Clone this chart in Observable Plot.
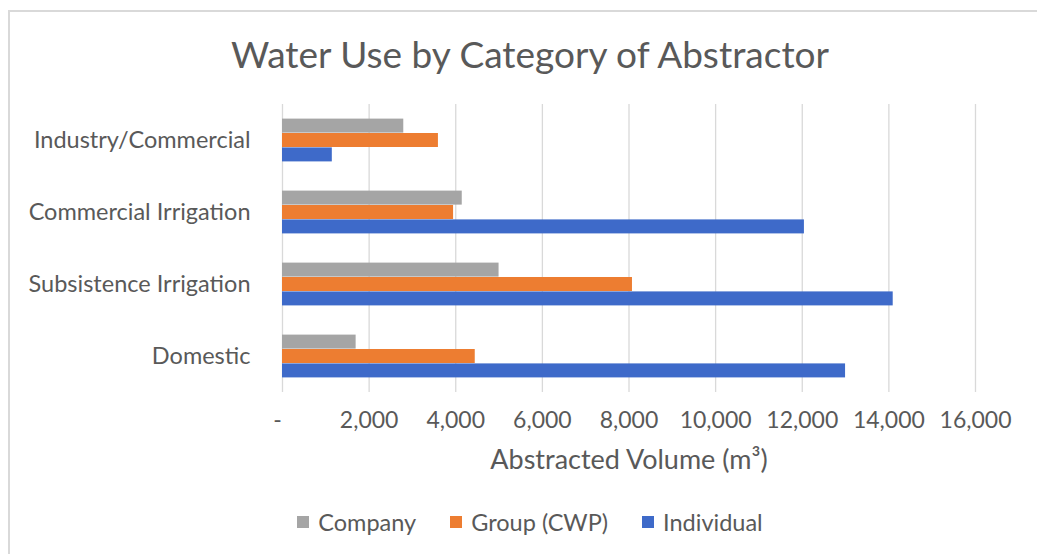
<!DOCTYPE html>
<html>
<head>
<meta charset="utf-8">
<script src="https://cdn.jsdelivr.net/npm/d3@7"></script>
<script src="https://cdn.jsdelivr.net/npm/@observablehq/plot@0.6"></script>
<style>
  html, body { margin: 0; padding: 0; background: #ffffff; }
  #chart {
    position: relative;
    width: 1037px;
    height: 554px;
    overflow: hidden;
    font-family: Lato, "Open Sans", sans-serif;
    color: #595959;
  }
  #frame {
    position: absolute;
    left: 8px;
    top: 10px;
    width: 1200px;
    height: 700px;
    border-top: 2px solid #d9d9d9;
    border-left: 2px solid #d9d9d9;
    box-sizing: border-box;
  }
  #title {
    position: absolute;
    left: 0;
    width: 1060px;
    top: 35px;
    text-align: center;
    font-size: 37px;
    line-height: 1;
    white-space: nowrap;
  }
  #plot {
    position: absolute;
    left: 0;
    top: 90px;
  }
  #legend {
    position: absolute;
    left: 0;
    width: 1060px;
    top: 508px;
    height: 28px;
    display: flex;
    justify-content: center;
    align-items: center;
    gap: 34px;
    font-size: 23.5px;
  }
  #legend .item { display: flex; align-items: center; gap: 9px; }
  #legend .swatch { width: 12px; height: 12px; }
</style>
</head>
<body>
<div id="chart">
  <div id="frame"></div>
  <div id="title">Water Use by Category of Abstractor</div>
  <div id="plot"></div>
  <div id="legend"></div>
</div>
<script>
// Abstractor categories, listed top to bottom
const categories = ["Industry/Commercial", "Commercial Irrigation", "Subsistence Irrigation", "Domestic"];

// Abstractor types (series), in the order they sit inside each group
const seriesNames = ["Company", "Group (CWP)", "Individual"];

// Abstracted volume in m³, one value per category
const company    = [2800, 4150, 5000, 1700];
const group      = [3600, 3950, 8080, 4450];
const individual = [1150, 12050, 14100, 13000];

// Value axis ticks
const xTicks = [0, 2000, 4000, 6000, 8000, 10000, 12000, 14000, 16000];

const seriesColors = ["#a5a5a5", "#ed7d31", "#3e6ac9"];
const axisTitle = "Abstracted Volume (m³)";

// Long-format rows built from the arrays above
const seriesValues = [company, group, individual];
const rows = seriesNames.flatMap((s, i) =>
  categories.map((c, j) => ({category: c, series: s, value: seriesValues[i][j]}))
);

const fmt = d3.format(",");
const tickFormat = d => d === 0 ? "-" : fmt(d);

// Frame geometry: each category gets one band step; the three bars of a
// group are stacked one bandwidth apart around the band's centre line.
const W = 1037, H = 390;
const mTop = 14, mBottom = 88, mLeft = 282, mRight = 62;
const padInner = 0.8, padOuter = 0.4;
const step = (H - mTop - mBottom) / (categories.length - padInner + 2 * padOuter);
const bandwidth = step * (1 - padInner);

const svg = Plot.plot({
  width: W,
  height: H,
  marginTop: mTop,
  marginBottom: mBottom,
  marginLeft: mLeft,
  marginRight: mRight,
  style: {fontFamily: "Lato, 'Open Sans', sans-serif", color: "#595959", background: "transparent", overflow: "visible"},
  x: {domain: [0, 16000], label: null},
  y: {domain: categories, paddingInner: padInner, paddingOuter: padOuter, label: null},
  marks: [
    Plot.gridX(xTicks, {stroke: "#d9d9d9", strokeOpacity: 1, strokeWidth: 1.3}),
    ...seriesNames.map((s, i) =>
      Plot.barX(rows.filter(r => r.series === s), {
        x: "value",
        y: "category",
        fill: seriesColors[i],
        dy: (i - 1) * bandwidth
      })
    ),
    // zero is written as a dash, set a little left as in accounting format
    Plot.axisX(xTicks.filter(d => d !== 0), {tickSize: 0, tickPadding: 19, fontSize: 23, tickFormat, fill: "#595959"}),
    Plot.axisX([0], {tickSize: 0, tickPadding: 19, fontSize: 23, tickFormat, fill: "#595959", dx: -5}),
    Plot.axisY({tickSize: 0, tickPadding: 32, fontSize: 23.5, fill: "#595959"}),
    Plot.text([axisTitle], {frameAnchor: "bottom", dy: 76, fontSize: 27, fill: "#595959"})
  ]
});
document.getElementById("plot").appendChild(svg);

// Legend below the chart
const legend = document.getElementById("legend");
seriesNames.forEach((s, i) => {
  const item = document.createElement("div");
  item.className = "item";
  const sw = document.createElement("span");
  sw.className = "swatch";
  sw.style.background = seriesColors[i];
  const label = document.createElement("span");
  label.textContent = s;
  item.appendChild(sw);
  item.appendChild(label);
  legend.appendChild(item);
});
</script>
</body>
</html>
